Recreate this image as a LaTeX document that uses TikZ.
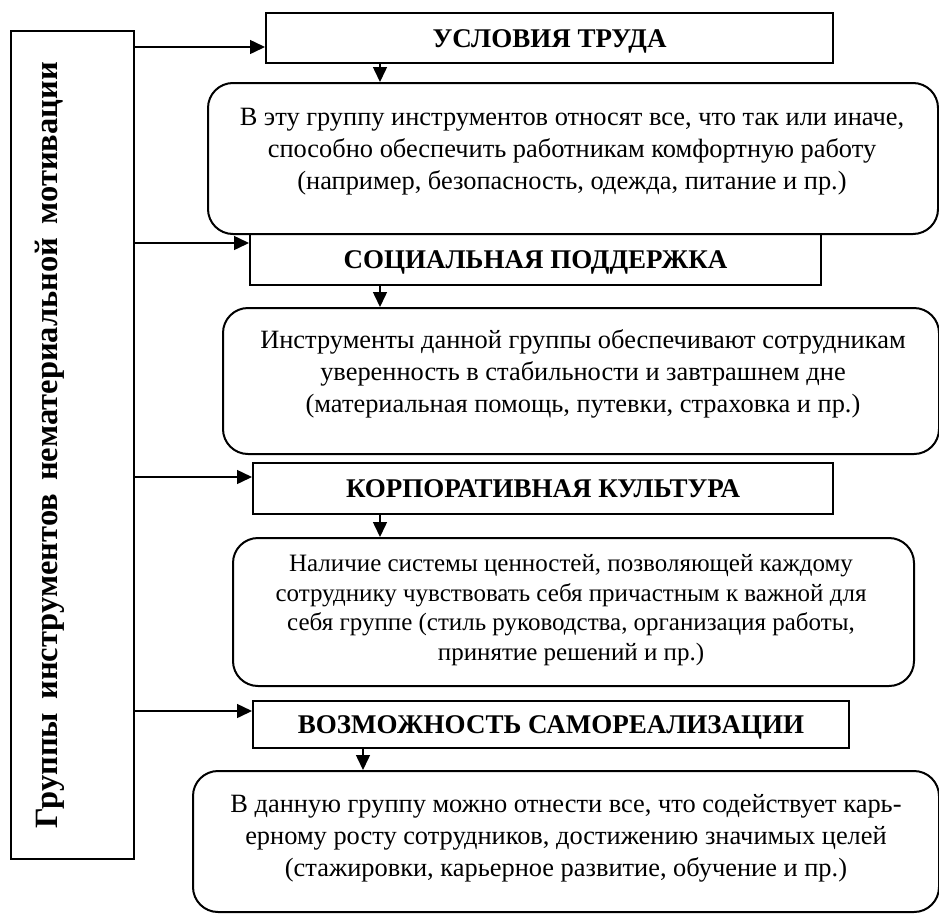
\documentclass[tikz,border=0pt]{standalone}
\usepackage{fontspec}
\setmainfont{Liberation Serif}
\usetikzlibrary{arrows.meta}
\begin{document}
\begin{tikzpicture}[x=1pt,y=-1pt,
  capbox/.style={draw,line width=2pt,inner sep=0pt,anchor=north west,
    font=\fontsize{27}{30}\selectfont\bfseries,text height=18pt,text depth=0pt},
  descbox/.style={draw,line width=2pt,rounded corners=25pt,inner sep=0pt,anchor=north west},
  desctext/.style={align=center,font=\fontsize{26.4}{32}\selectfont,inner sep=0pt,anchor=base},
  arr/.style={line width=1.5pt,-{Triangle[length=15pt,width=14pt]}}]
\useasboundingbox (0,0) rectangle (939,913);

% left group box
\node[draw,line width=2pt,inner sep=0pt,anchor=north west,minimum width=123pt,minimum height=828pt] (grp) at (10,30) {};
\node[rotate=90,anchor=base,inner sep=0pt,font=\fontsize{32.5}{36}\selectfont\bfseries] (grptext) at (57,445)
  {\makebox[766pt][s]{Группы \hfill{} инструментов \hfill{} нематериальной \hfill{} мотивации}};

% caption boxes
\node[capbox,minimum width=567pt,minimum height=50pt] (c1) at (265,12) {УСЛОВИЯ ТРУДА};
\node[capbox,minimum width=571pt,minimum height=51pt] (c2) at (249,233) {СОЦИАЛЬНАЯ ПОДДЕРЖКА};
\node[capbox,minimum width=580pt,minimum height=51pt] (c3) at (252,462) {КОРПОРАТИВНАЯ КУЛЬТУРА};
\node[capbox,minimum width=596pt,minimum height=47pt] (c4) at (252,700) {ВОЗМОЖНОСТЬ САМОРЕАЛИЗАЦИИ};

% description boxes
\node[descbox,minimum width=730pt,minimum height=151pt] (d1) at (207,82) {};
\node[descbox,minimum width=716pt,minimum height=146pt] (d2) at (222,307) {};
\node[descbox,minimum width=681pt,minimum height=148pt] (d3) at (232,537) {};
\node[descbox,minimum width=746pt,minimum height=141pt] (d4) at (192,770) {};

% texts (anchor=base is the baseline of the last line)
\node[desctext] (t1) at (572,189) {В эту группу инструментов относят все, что так или иначе,\\
способно обеспечить работникам комфортную работу\\
(например, безопасность, одежда, питание и пр.)};
\node[desctext] (t2) at (583,412) {Инструменты данной группы обеспечивают сотрудникам\\
уверенность в стабильности и завтрашнем дне\\
(материальная помощь, путевки, страховка и пр.)};
\node[desctext,font=\fontsize{25}{29.5}\selectfont] (t3) at (571,660) {Наличие системы ценностей, позволяющей каждому\\
сотруднику чувствовать себя причастным к важной для\\
себя группе (стиль руководства, организация работы,\\
принятие решений и пр.)};
\node[desctext] (t4) at (566,876) {В данную группу можно отнести все, что содействует карь-\\
ерному росту сотрудников, достижению значимых целей\\
(стажировки, карьерное развитие, обучение и пр.)};

% horizontal arrows
\coordinate (h1) at (0,47);
\coordinate (h2) at (0,243);
\coordinate (h3) at (0,477);
\coordinate (h4) at (0,711);
\draw[arr] (grp.east |- h1) -- (c1.west |- h1);
\draw[arr] (grp.east |- h2) -- (c2.west |- h2);
\draw[arr] (grp.east |- h3) -- (c3.west |- h3);
\draw[arr] (grp.east |- h4) -- (c4.west |- h4);

% vertical arrows
\coordinate (v1) at (380,0);
\coordinate (v4) at (363,0);
\draw[arr] (c1.south -| v1) -- (d1.north -| v1);
\draw[arr] (c2.south -| v1) -- (d2.north -| v1);
\draw[arr] (c3.south -| v1) -- (d3.north -| v1);
\draw[arr] (c4.south -| v4) -- (d4.north -| v4);
\end{tikzpicture}
\end{document}
